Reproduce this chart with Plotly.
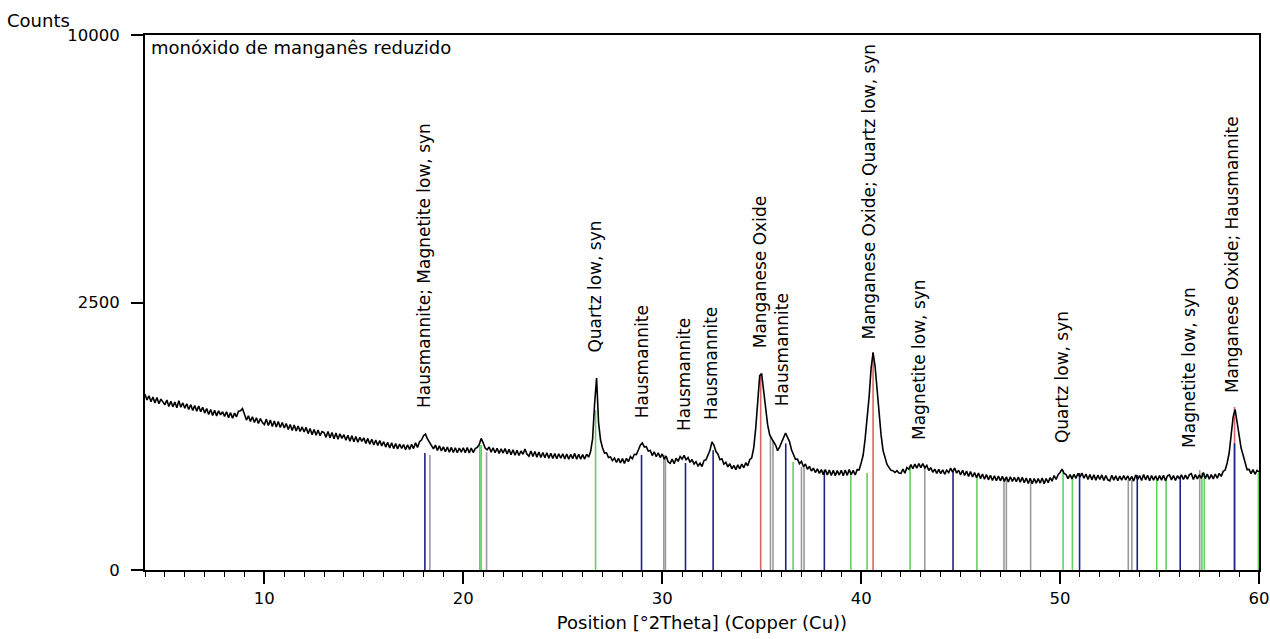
import numpy as np
import plotly.graph_objects as go

# ---------------- data ----------------
# scan: 2Theta start / step (degrees)
SCAN_START = 4.0
SCAN_STEP = 0.1

counts = [
    # 4.x
    1080, 1010, 1060, 990, 1045, 975, 1040, 965, 1020, 980,
    # 5.x
    955, 1010, 935, 995, 930, 985, 920, 1000, 925, 975,
    # 6.x
    915, 965, 900, 955, 890, 945, 880, 940, 875, 925,
    # 7.x
    860, 910, 845, 900, 835, 890, 830, 885, 840, 875,
    # 8.x
    825, 875, 810, 865, 805, 860, 820, 880, 885, 910,
    # 9.x
    850, 785, 830, 770, 820, 760, 810, 750, 800, 760,
    # 10.x
    740, 795, 730, 785, 720, 775, 715, 770, 710, 760,
    # 11.x
    705, 750, 690, 740, 680, 735, 675, 725, 670, 715,
    # 12.x
    665, 710, 650, 700, 640, 690, 635, 685, 630, 670,
    # 13.x
    660, 615, 670, 610, 660, 602, 655, 598, 648, 605,
    # 14.x
    640, 588, 635, 580, 630, 575, 622, 570, 615, 578,
    # 15.x
    610, 560, 605, 552, 598, 546, 590, 542, 585, 538,
    # 16.x
    575, 528, 570, 520, 565, 515, 558, 512, 555, 516,
    # 17.x
    550, 505, 548, 508, 552, 515, 565, 525, 575, 590,
    # 18.x
    630, 645, 600, 570, 550, 512, 545, 500, 538, 495,
    # 19.x
    530, 488, 528, 485, 525, 482, 522, 480, 520, 485,
    # 20.x
    522, 480, 525, 478, 520, 482, 515, 525, 550, 605,
    # 21.x
    565, 520, 505, 528, 485, 522, 480, 518, 475, 512,
    # 22.x
    478, 515, 470, 510, 465, 505, 460, 500, 458, 495,
    # 23.x
    468, 512, 470, 452, 495, 450, 490, 445, 486, 442,
    # 24.x
    482, 440, 480, 436, 476, 434, 474, 432, 472, 436,
    # 25.x
    472, 430, 470, 428, 468, 432, 475, 428, 468, 430,
    # 26.x
    465, 430, 468, 445, 490, 600, 960, 1288, 760, 590,
    # 27.x
    520, 478, 480, 442, 446, 418, 438, 404, 436, 400,
    # 28.x
    433, 397, 436, 410, 450, 432, 468, 466, 503, 545,
    # 29.x
    564, 530, 532, 495, 500, 458, 488, 448, 480, 442,
    # 30.x
    470, 432, 452, 408, 398, 430, 395, 436, 412, 450,
    # 31.x
    430, 460, 422, 442, 405, 426, 392, 410, 378, 398,
    # 32.x
    374, 418, 424, 466, 500, 572, 545, 490, 470, 425,
    # 33.x
    432, 392, 405, 372, 394, 358, 382, 352, 386, 358,
    # 34.x
    392, 365, 402, 380, 425, 440, 520, 700, 980, 1320,
    # 35.x
    1340, 1100, 900, 735, 640, 600, 572, 545, 498, 528,
    # 36.x
    565, 612, 656, 615, 575, 505, 470, 428, 430, 395,
    # 37.x
    412, 372, 392, 354, 375, 342, 362, 332, 358, 326,
    # 38.x
    352, 318, 353, 315, 349, 313, 347, 311, 345, 315,
    # 39.x
    347, 311, 349, 313, 352, 318, 347, 315, 352, 350,
    # 40.x
    400, 460, 600, 780, 1046, 1420, 1650, 1450, 1120, 861,
    # 41.x
    640, 500, 435, 390, 368, 348, 345, 332, 345, 328,
    # 42.x
    326, 355, 328, 366, 355, 388, 358, 392, 362, 396,
    # 43.x
    366, 396, 364, 382, 346, 366, 334, 356, 326, 354,
    # 44.x
    324, 351, 320, 348, 332, 362, 334, 364, 328, 348,
    # 45.x
    316, 348, 312, 342, 306, 338, 302, 332, 298, 328,
    # 46.x
    292, 322, 288, 318, 284, 314, 280, 310, 278, 308,
    # 47.x
    278, 306, 274, 304, 270, 304, 274, 300, 272, 302,
    # 48.x
    270, 300, 266, 296, 262, 294, 260, 292, 264, 292,
    # 49.x
    264, 296, 260, 292, 266, 298, 276, 312, 286, 318,
    # 50.x
    332, 356, 326, 318, 292, 318, 290, 320, 294, 326,
    # 51.x
    302, 328, 294, 322, 286, 318, 284, 316, 282, 314,
    # 52.x
    286, 316, 280, 312, 284, 278, 314, 282, 310, 278,
    # 53.x
    308, 282, 312, 284, 310, 280, 306, 276, 316, 286,
    # 54.x
    312, 280, 318, 284, 314, 278, 312, 282, 310, 280,
    # 55.x
    312, 282, 314, 278, 310, 316, 284, 312, 280, 310,
    # 56.x
    290, 316, 286, 314, 288, 318, 324, 286, 318, 290,
    # 57.x
    316, 294, 332, 292, 322, 288, 318, 290, 322, 294,
    # 58.x
    326, 306, 340, 349, 400, 478, 637, 820, 900, 765,
    # 59.x
    618, 520, 462, 400, 352, 354, 324, 352, 320, 346,
    # 60.0
    336,
]

# reference-pattern sticks: position (deg 2Theta) and height (counts)
mn_oxide_pos = [34.95, 40.60, 58.77]
mn_oxide_cnt = [1356, 1660, 928]

magnetite_pos = [18.32, 21.17, 30.08, 30.16, 35.44, 35.57, 37.00, 37.13, 43.20,
                 47.18, 47.30, 48.52, 53.43, 53.61, 57.02]
magnetite_cnt = [462, 486, 462, 462, 618, 590, 371, 371, 371,
                 296, 296, 271, 283, 283, 349]

quartz_pos = [20.83, 20.90, 26.65, 36.58, 39.48, 40.30, 42.46, 45.82, 50.15,
              50.62, 54.86, 55.33, 57.13, 57.25, 59.97]
quartz_cnt = [546, 546, 894, 408, 336, 329, 371, 302, 349,
              315, 283, 283, 329, 329, 329]

hausmannite_pos = [18.07, 28.96, 31.17, 32.56, 36.21, 38.15, 44.62, 50.98,
                   53.88, 56.04, 58.77]
hausmannite_cnt = [478, 462, 400, 500, 560, 349, 336, 329,
                   315, 302, 560]

# peak labels
label_text = [
    "Hausmannite; Magnetite low, syn",
    "Quartz low, syn",
    "Hausmannite",
    "Hausmannite",
    "Hausmannite",
    "Manganese Oxide",
    "Hausmannite",
    "Manganese Oxide; Quartz low, syn",
    "Magnetite low, syn",
    "Quartz low, syn",
    "Magnetite low, syn",
    "Manganese Oxide; Hausmannite",
]
label_pos = [18.00, 26.60, 28.97, 31.12, 32.42, 34.93, 36.06, 40.42, 42.88,
             50.10, 56.45, 58.62]

y_tick_counts = [0, 2500, 10000]
y_tick_text = ["0", "2500", "10000"]

# ---------------- layout constants (not data) ----------------
label_anchor_cnt = [894, 1615, 786, 656, 765, 1691, 917, 1816, 572, 546, 503, 1070]

FONT = "DejaVu Sans"
FS_LABEL = 17
FS_TEXT = 18
FS_TICK = 16.5

x = SCAN_START + SCAN_STEP * np.arange(len(counts))
sq = np.sqrt

fig = go.Figure()


def sticks(pos, cnt, color):
    xs, ys = [], []
    for p, c in zip(pos, cnt):
        xs += [p, p, None]
        ys += [0, float(sq(c)), None]
    fig.add_trace(go.Scatter(x=xs, y=ys, mode="lines",
                             line=dict(color=color, width=1.6),
                             hoverinfo="skip", showlegend=False))


sticks(mn_oxide_pos, mn_oxide_cnt, "#dc6464")
sticks(magnetite_pos, magnetite_cnt, "#9a9a9a")
sticks(quartz_pos, quartz_cnt, "#5fd25f")
sticks(hausmannite_pos, hausmannite_cnt, "#1f1f85")

fig.add_trace(go.Scatter(x=x, y=sq(np.array(counts, dtype=float)), mode="lines",
                         line=dict(color="black", width=1.6),
                         showlegend=False))

for t, p, c in zip(label_text, label_pos, label_anchor_cnt):
    fig.add_annotation(x=p, y=float(sq(c)), text=t, textangle=-90,
                       showarrow=False, xanchor="center", yanchor="bottom",
                       font=dict(family=FONT, size=FS_LABEL, color="black"))

fig.add_annotation(xref="paper", yref="paper", x=-140 / 1114, y=(570 - 20) / 535,
                   text="Counts", showarrow=False, xanchor="left", yanchor="middle",
                   font=dict(family=FONT, size=FS_TEXT, color="black"))
fig.add_annotation(xref="paper", yref="paper", x=4 / 1114, y=(570 - 48) / 535,
                   text="monóxido de manganês reduzido", showarrow=False,
                   xanchor="left", yanchor="middle",
                   font=dict(family=FONT, size=FS_TEXT, color="black"))

fig.update_layout(
    width=1270, height=639,
    margin=dict(l=145, r=11, t=35, b=69),
    paper_bgcolor="white", plot_bgcolor="white",
    showlegend=False,
    font=dict(family=FONT, size=FS_TEXT, color="black"),
    xaxis=dict(range=[4, 60], tickmode="linear", tick0=0, dtick=10,
               automargin=False,
               ticks="outside", ticklen=12, tickwidth=1.5, tickcolor="black",
               showline=True, linewidth=2, linecolor="black", mirror=True,
               showgrid=False, zeroline=False,
               minor=dict(tick0=0, dtick=1, ticks="outside", ticklen=5,
                          tickwidth=1, tickcolor="black", showgrid=False),
               tickfont=dict(family=FONT, size=FS_TICK),
               title=dict(text="Position [°2Theta] (Copper (Cu))",
                          font=dict(family=FONT, size=FS_TEXT), standoff=10)),
    yaxis=dict(range=[0, 100], tickmode="array", automargin=False,
               tickvals=[float(sq(v)) for v in y_tick_counts], ticktext=y_tick_text,
               ticks="outside", ticklen=12, tickwidth=1.5, tickcolor="black",
               ticklabelstandoff=8,
               showline=True, linewidth=2, linecolor="black", mirror=True,
               showgrid=False, zeroline=False,
               tickfont=dict(family=FONT, size=FS_TICK)),
)

fig.write_html("out.html")
